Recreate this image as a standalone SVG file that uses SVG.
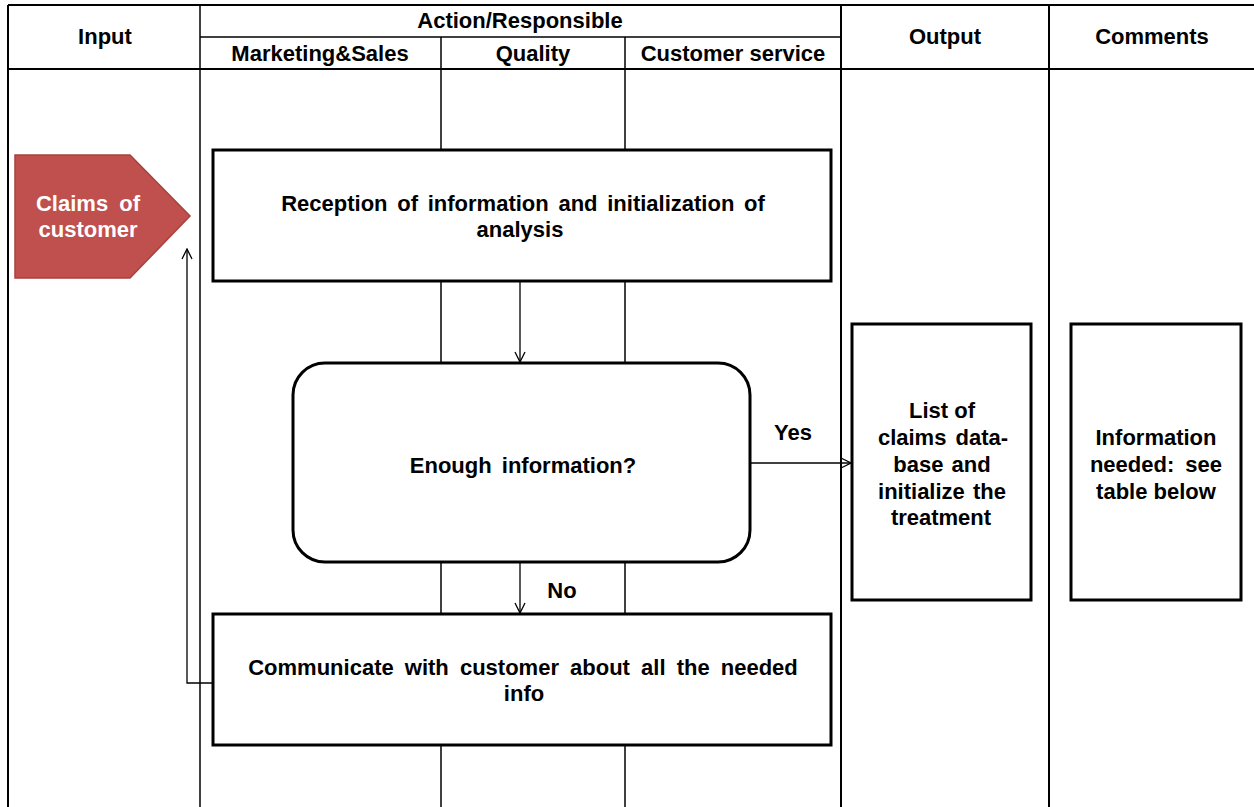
<svg xmlns="http://www.w3.org/2000/svg" width="1254" height="807" viewBox="0 0 1254 807">
<defs>
<style>
.t{font-family:"Liberation Sans",Arial,sans-serif;font-weight:bold;font-size:22px;fill:#000;text-anchor:middle}
.w{fill:#fff}
.grid{stroke:#000;stroke-width:1.5;fill:none}
.gridb{stroke:#000;stroke-width:2;fill:none}
.box{fill:#fff;stroke:#000;stroke-width:3}
.con{stroke:#000;stroke-width:1.3;fill:none}
</style>
<marker id="arr" viewBox="0 0 12 12" refX="11" refY="6" markerWidth="12" markerHeight="12" markerUnits="userSpaceOnUse" orient="auto">
<path d="M1,1 L11,6 L1,11" fill="none" stroke="#000" stroke-width="1.3"/>
</marker>
</defs>
<rect width="1254" height="807" fill="#fff"/>
<g id="table">
<line class="gridb" x1="8" y1="5" x2="1254" y2="5"/>
<line class="gridb" x1="8" y1="69" x2="1254" y2="69"/>
<line class="grid" x1="200" y1="37" x2="841" y2="37"/>
<line class="gridb" x1="8" y1="5" x2="8" y2="807"/>
<line class="grid" x1="200" y1="5" x2="200" y2="807"/>
<line class="grid" x1="441" y1="37" x2="441" y2="807"/>
<line class="grid" x1="625" y1="37" x2="625" y2="807"/>
<line class="gridb" x1="841" y1="5" x2="841" y2="807"/>
<line class="gridb" x1="1049" y1="5" x2="1049" y2="807"/>
<text class="t" x="105" y="44">Input</text>
<text class="t" x="520" y="28">Action/Responsible</text>
<text class="t" x="320" y="61">Marketing&amp;Sales</text>
<text class="t" x="533" y="61">Quality</text>
<text class="t" x="733" y="61">Customer service</text>
<text class="t" x="945" y="44">Output</text>
<text class="t" x="1152" y="44">Comments</text>
</g>
<g id="connectors">
<line class="con" x1="520" y1="281" x2="520" y2="362" marker-end="url(#arr)"/>
<line class="con" x1="520" y1="562" x2="520" y2="613" marker-end="url(#arr)"/>
<line class="con" x1="750" y1="463" x2="851" y2="463" stroke="#555" marker-end="url(#arr)"/>
<polyline class="con" points="213,683 187,683 187,249" marker-end="url(#arr)"/>
<text class="t" x="793" y="440">Yes</text>
<text class="t" x="562" y="598">No</text>
</g>
<g id="claims">
<polygon points="15,155 130,155 190,216 130,278 15,278" fill="#C0504D" stroke="#A9403D" stroke-width="1.5"/>
<text class="t w" x="88" y="211" word-spacing="5">Claims of</text>
<text class="t w" x="88" y="237">customer</text>
</g>
<g id="reception">
<rect class="box" x="213" y="150" width="618" height="131"/>
<text class="t" x="523" y="211" word-spacing="3.6">Reception of information and initialization of</text>
<text class="t" x="520" y="237">analysis</text>
</g>
<g id="decision">
<rect class="box" x="293" y="363" width="457" height="199" rx="32" ry="32"/>
<text class="t" x="523" y="473" word-spacing="4">Enough information?</text>
</g>
<g id="communicate">
<rect class="box" x="213" y="614" width="618" height="131"/>
<text class="t" x="523" y="675" word-spacing="5">Communicate with customer about all the needed</text>
<text class="t" x="524" y="701">info</text>
</g>
<g id="output">
<rect class="box" x="852" y="324" width="179" height="276"/>
<text class="t" x="942" y="418">List of</text>
<text class="t" x="943" y="445" word-spacing="3">claims data-</text>
<text class="t" x="942" y="472" word-spacing="2">base and</text>
<text class="t" x="942" y="499" word-spacing="2">initialize the</text>
<text class="t" x="941" y="525">treatment</text>
</g>
<g id="comments">
<rect class="box" x="1071" y="324" width="170" height="276"/>
<text class="t" x="1156" y="445">Information</text>
<text class="t" x="1156" y="472" word-spacing="5">needed: see</text>
<text class="t" x="1156" y="499">table below</text>
</g>
</svg>
